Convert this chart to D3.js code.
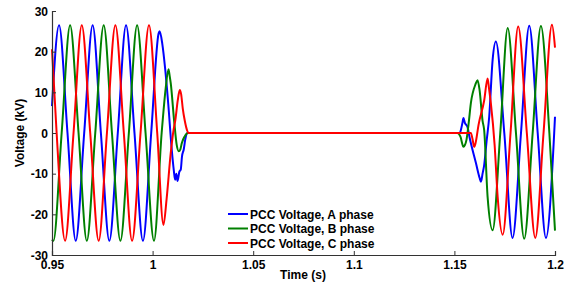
<html>
<head>
<script src="https://d3js.org/d3.v7.min.js"></script>
<style>
  body { margin: 0; background: #fff; }
  text { font-family: "Liberation Sans", Arial, sans-serif; font-weight: bold; }
</style>
</head>
<body>
<svg width="575" height="282"></svg>
<script>
// tick values
var xTicks = [0.95, 1, 1.05, 1.1, 1.15, 1.2];
var xTickLabels = ["0.95", "1", "1.05", "1.1", "1.15", "1.2"];
var yTicks = [-30, -20, -10, 0, 10, 20, 30];

var seriesNames = ["PCC Voltage, A phase", "PCC Voltage, B phase", "PCC Voltage, C phase"];

// knots: time (s), voltage (kV)
var phaseA = [
  [0.9500, 6.6], [0.9535, 26.5], [0.9577, 0], [0.9618, -26.5], [0.9660, 0], [0.9702, 26.5],
  [0.9743, 0], [0.9785, -26.5], [0.9827, 0], [0.9868, 26.5], [0.9910, 0], [0.9952, -26.5],
  [0.9993, 0], [1.0030, 24.5], [1.0035, 25], [1.0048, 22], [1.0063, 15.5], [1.0078, 7],
  [1.0095, -4], [1.0105, -9], [1.0112, -11.5], [1.0118, -10], [1.0124, -11.8], [1.0133, -9.5],
  [1.0140, -9], [1.0146, -5.8], [1.0155, -4], [1.0162, -1.7], [1.0172, 0],
  [1.1527, 0], [1.1532, 0.7], [1.1540, 2.5], [1.1545, 3.7], [1.1552, 2.5], [1.1565, 1.5],
  [1.1575, -1], [1.1607, -7.4], [1.1625, -11], [1.1632, -12], [1.1640, -10], [1.1648, -7.9],
  [1.1660, -2], [1.1673, 4], [1.1690, 18], [1.1706, 22.5], [1.1748, 0], [1.1789, -25.8],
  [1.1831, 0], [1.1872, 26.4], [1.1914, 0], [1.1955, -25.8], [1.1996, 0], [1.2000, 4]
];
var phaseB = [
  [0.9500, -26.2], [0.9507, -26.5], [0.9548, 0], [0.9590, 26.5], [0.9632, 0], [0.9673, -26.5],
  [0.9715, 0], [0.9757, 26.5], [0.9798, 0], [0.9840, -26.5], [0.9882, 0], [0.9923, 26.5],
  [0.9965, 0], [1.0007, -26.5], [1.0045, 0], [1.0065, 11], [1.0079, 15.7], [1.0085, 14],
  [1.0090, 12.3], [1.0107, 3], [1.0120, -3], [1.0130, -4.5], [1.0138, -4], [1.0145, -2.5],
  [1.0160, -0.8], [1.0175, 0],
  [1.1515, 0], [1.1530, -0.9], [1.1545, -3.4], [1.1552, -3], [1.1560, -1.7], [1.1570, 2],
  [1.1582, 7.4], [1.1605, 12], [1.1615, 13], [1.1625, 10.6], [1.1640, 3], [1.1648, 0.7],
  [1.1665, -15.7], [1.1690, -23.9], [1.1728, 0], [1.1765, 25.8], [1.1806, 0], [1.1847, -26],
  [1.1889, 0], [1.1930, 26.3], [1.1972, 0], [1.2000, -24]
];
var phaseC = [
  [0.9500, 20.6], [0.9523, 0], [0.9565, -26.5], [0.9607, 0], [0.9648, 26.5], [0.9690, 0],
  [0.9732, -26.5], [0.9773, 0], [0.9815, 26.5], [0.9857, 0], [0.9898, -26.5], [0.9940, 0],
  [0.9982, 26.5], [1.0023, 0], [1.0054, -22.6], [1.0070, -16], [1.0090, -5], [1.0105, 1],
  [1.0113, 3.2], [1.0125, 8], [1.0135, 10.6], [1.0142, 9.5], [1.0150, 6], [1.0160, 3],
  [1.0171, 0.7], [1.0178, 0],
  [1.1582, 0], [1.1590, -1.5], [1.1598, -3.4], [1.1605, -2.5], [1.1620, 2], [1.1648, 8],
  [1.1665, 13.4], [1.1672, 11], [1.1681, 7.4], [1.1700, -3], [1.1715, -15.7], [1.1740, -25],
  [1.1779, 0], [1.1817, 26.2], [1.1860, 0], [1.1902, -25.8], [1.1943, 0], [1.1985, 26.6],
  [1.2000, 21]
];
var colors = ["#0000ff", "#008000", "#ff0000"];

var svg = d3.select("svg");

var x = d3.scaleLinear().domain([0.95, 1.2]).range([52, 555]);
var y = d3.scaleLinear().domain([-30, 30]).range([255, 11]);

var line = d3.line()
  .x(function(d) { return x(d[0]); })
  .y(function(d) { return y(d[1]); })
  .curve(d3.curveMonotoneX);

var plot = svg.append("g");
[phaseA, phaseB, phaseC].forEach(function(p, i) {
  plot.append("path")
    .attr("d", line(p))
    .attr("fill", "none")
    .attr("stroke", colors[i])
    .attr("stroke-width", 2)
    .attr("stroke-linejoin", "round");
});

// axes, ticks pointing inward like matlab
var yAxis = svg.append("g")
  .attr("transform", "translate(52,0)")
  .call(d3.axisLeft(y).tickValues(yTicks).tickSize(-4).tickPadding(4).tickFormat(function(d) { return d; }));
var xAxis = svg.append("g")
  .attr("transform", "translate(0,255)")
  .call(d3.axisBottom(x).tickValues(xTicks).tickSize(-4).tickPadding(5)
    .tickFormat(function(d, i) { return xTickLabels[i]; }));

svg.selectAll(".domain").attr("stroke", "#333").attr("stroke-width", 1.2);
svg.selectAll(".tick line").attr("stroke", "#333");
svg.selectAll(".tick text").attr("fill", "#000").style("font-size", "12px");
yAxis.selectAll(".tick text").attr("dy", "0.35em");

svg.append("text")
  .attr("x", 303).attr("y", 279)
  .attr("text-anchor", "middle")
  .style("font-size", "12px")
  .text("Time (s)");

svg.append("text")
  .attr("transform", "translate(24,133) rotate(-90)")
  .attr("text-anchor", "middle")
  .style("font-size", "12px")
  .text("Voltage (kV)");

// legend
var legend = svg.append("g");
seriesNames.forEach(function(name, i) {
  var ly = 214 + i * 14.5;
  legend.append("line")
    .attr("x1", 228).attr("x2", 248)
    .attr("y1", ly).attr("y2", ly)
    .attr("stroke", colors[i]).attr("stroke-width", 2);
  legend.append("text")
    .attr("x", 250).attr("y", ly + 4.5)
    .style("font-size", "12px")
    .text(name);
});
</script>
</body>
</html>
